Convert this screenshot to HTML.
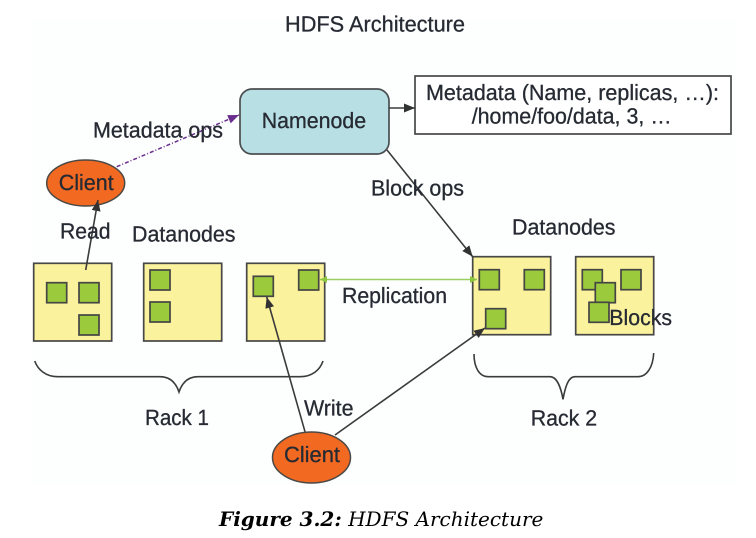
<!DOCTYPE html>
<html>
<head>
<meta charset="utf-8">
<style>
html,body{margin:0;padding:0;background:#fff;width:756px;height:538px;overflow:hidden}
svg{display:block}
.t{font-family:"Liberation Sans",Arial,sans-serif;font-size:22px;fill:#262a32;stroke:#262a32;stroke-width:.3;text-rendering:geometricPrecision}
.c{font-family:"DejaVu Serif",serif;font-size:20px;fill:#000;font-style:italic}
.b{fill:#9bcb3c;stroke:#444;stroke-width:1.7}
.d{fill:#fbf29d;stroke:#474745;stroke-width:1.7}
.l{stroke:#3a3a3a;stroke-width:1.6;fill:none}
</style>
</head>
<body>
<svg width="756" height="538" viewBox="0 0 756 538" xmlns="http://www.w3.org/2000/svg">
<defs>
<filter id="s" x="0" y="0" width="100%" height="100%"><feGaussianBlur stdDeviation="0.35"/></filter>
<marker id="a" markerWidth="12" markerHeight="10" refX="11" refY="4.5" orient="auto" markerUnits="userSpaceOnUse"><path d="M0 0L11 4.5L0 9z" fill="#333"/></marker>
<marker id="p" markerWidth="12" markerHeight="10" refX="11" refY="4.5" orient="auto" markerUnits="userSpaceOnUse"><path d="M0 0L11 4.5L0 9z" fill="#6b2f8f"/></marker>
<marker id="g" markerWidth="8" markerHeight="8" refX="7" refY="3.5" orient="auto-start-reverse" markerUnits="userSpaceOnUse"><path d="M0 0L7 3.5L0 7z" fill="#8cc63f"/></marker>
</defs>
<g filter="url(#s)">
<rect x="32" y="20" width="703" height="464" fill="#fdfefe"/>

<rect x="240" y="89" width="149" height="65" rx="12" fill="#b7dfe4" stroke="#4c4f51" stroke-width="1.7"/>
<rect x="415" y="76" width="316" height="58" fill="#fff" stroke="#474745" stroke-width="1.7"/>
<ellipse cx="85.7" cy="183" rx="39" ry="23" fill="#f26922" stroke="#4c4844" stroke-width="1.5"/>
<ellipse cx="311.5" cy="457.5" rx="39" ry="25.5" fill="#f26922" stroke="#4c4844" stroke-width="1.5"/>

<rect class="d" x="33.7" y="263.3" width="78" height="77.7"/>
<rect class="d" x="143.7" y="263.3" width="78" height="77.7"/>
<rect class="d" x="246.7" y="263.3" width="78" height="77.7"/>
<rect class="d" x="472.7" y="256.7" width="78" height="78"/>
<rect class="d" x="575.7" y="256.7" width="78" height="78"/>

<rect class="b" x="46.7" y="282.7" width="20" height="20"/>
<rect class="b" x="79" y="282.7" width="20" height="20"/>
<rect class="b" x="79" y="315" width="20" height="20"/>
<rect class="b" x="150" y="270" width="20" height="20"/>
<rect class="b" x="150" y="302" width="20" height="20"/>
<rect class="b" x="253.3" y="276.3" width="20" height="20"/>
<rect class="b" x="298.7" y="270" width="20" height="20"/>
<rect class="b" x="479.3" y="269.7" width="20" height="20"/>
<rect class="b" x="524.3" y="269.7" width="20" height="20"/>
<rect class="b" x="485.7" y="308.7" width="20" height="20"/>
<rect class="b" x="582.3" y="269.7" width="20" height="20"/>
<rect class="b" x="621" y="269.7" width="20" height="20"/>
<rect class="b" x="595.3" y="282.7" width="20" height="20"/>
<rect class="b" x="589" y="302.3" width="20" height="20"/>

<line class="l" x1="85.7" y1="270" x2="98" y2="200" marker-end="url(#a)"/>
<line x1="116.7" y1="166.7" x2="239" y2="115" stroke="#6b2f8f" stroke-width="1.5" stroke-dasharray="4 2 1 2" marker-end="url(#p)"/>
<line class="l" x1="389" y1="108" x2="415" y2="108" marker-end="url(#a)"/>
<line class="l" x1="387" y1="150" x2="472.7" y2="256.7" marker-end="url(#a)"/>
<line x1="320" y1="279.5" x2="477" y2="279.5" stroke="#9ccf62" stroke-width="1.5" marker-start="url(#g)" marker-end="url(#g)"/>
<line class="l" x1="305" y1="431.7" x2="266.7" y2="297" marker-end="url(#a)"/>
<line class="l" x1="335" y1="435" x2="485" y2="328" marker-end="url(#a)"/>

<path class="l" d="M34.7 361C38 370 46 376.7 58 376.7H160C170 376.7 176 383 179 392C182 383 188 376.7 198 376.7H300C312 376.7 320 370 323 361"/>
<path class="l" d="M474 354C474 367 479 376.7 488.3 376.7H550C557 376.7 561 388 563 399.3C565 388 568 376.7 575 376.7H638C647 376.7 653 367 653.7 353"/>

<text class="t" x="285" y="31.5" textLength="180" lengthAdjust="spacingAndGlyphs">HDFS Architecture</text>
<text class="t" x="261.7" y="128" textLength="104.5" lengthAdjust="spacingAndGlyphs">Namenode</text>
<text class="t" x="426" y="100" textLength="293" lengthAdjust="spacingAndGlyphs">Metadata (Name, replicas, …):</text>
<text class="t" x="471.7" y="123.3" textLength="200" lengthAdjust="spacingAndGlyphs">/home/foo/data, 3, …</text>
<text class="t" x="93" y="137.7" textLength="130" lengthAdjust="spacingAndGlyphs">Metadata ops</text>
<text class="t" x="58.7" y="190" textLength="55" lengthAdjust="spacingAndGlyphs">Client</text>
<text class="t" x="60" y="238.3" textLength="50.5" lengthAdjust="spacingAndGlyphs">Read</text>
<text class="t" x="132" y="241.7" textLength="103.5" lengthAdjust="spacingAndGlyphs">Datanodes</text>
<text class="t" x="371" y="195.7" textLength="93" lengthAdjust="spacingAndGlyphs">Block ops</text>
<text class="t" x="512" y="234.7" textLength="103.5" lengthAdjust="spacingAndGlyphs">Datanodes</text>
<text class="t" x="342" y="303" textLength="105" lengthAdjust="spacingAndGlyphs">Replication</text>
<text class="t" x="609.3" y="325" textLength="62.7" lengthAdjust="spacingAndGlyphs">Blocks</text>
<text class="t" x="304" y="415.7" textLength="49.5" lengthAdjust="spacingAndGlyphs">Write</text>
<text class="t" x="145" y="425" textLength="64" lengthAdjust="spacingAndGlyphs">Rack 1</text>
<text class="t" x="284" y="462" textLength="56" lengthAdjust="spacingAndGlyphs">Client</text>
<text class="t" x="530.7" y="425.7" textLength="66.5" lengthAdjust="spacingAndGlyphs">Rack 2</text>
</g>
<text class="c" x="219" y="526"><tspan font-weight="bold">Figure 3.2:</tspan> HDFS Architecture</text>
</svg>
</body>
</html>
